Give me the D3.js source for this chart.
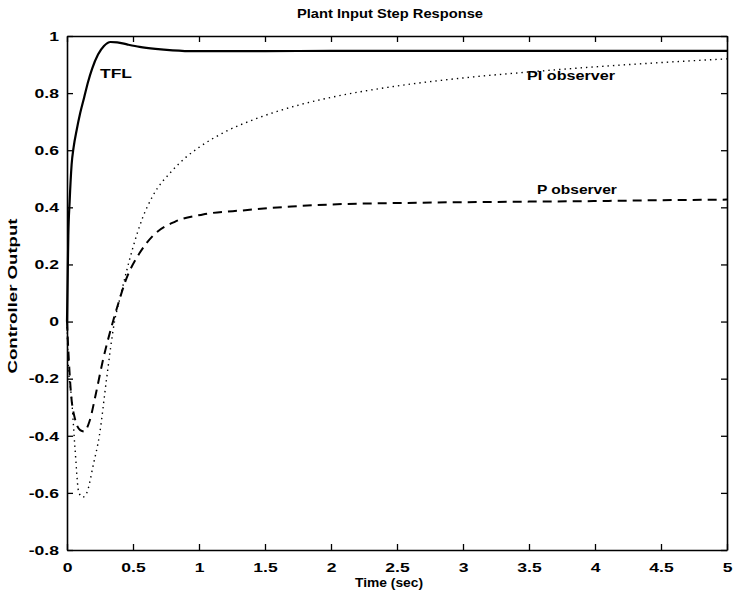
<!DOCTYPE html>
<html><head><meta charset="utf-8">
<script src="https://cdn.jsdelivr.net/npm/d3@7"></script>
<style>
html,body{margin:0;padding:0;background:#fff;}
svg text{font-family:"Liberation Sans",Arial,sans-serif;font-weight:bold;fill:#000;}
</style></head>
<body>
<svg id="c" width="734" height="594"></svg>
<script>
// ---- data ----
const xTicks = [0,0.5,1,1.5,2,2.5,3,3.5,4,4.5,5];
const xTickLabels = ["0","0.5","1","1.5","2","2.5","3","3.5","4","4.5","5"];
const yTicks = [-0.8,-0.6,-0.4,-0.2,0,0.2,0.4,0.6,0.8,1];
const yTickLabels = ["-0.8","-0.6","-0.4","-0.2","0","0.2","0.4","0.6","0.8","1"];

const tflTime  = [0,0.005,0.01,0.02,0.035,0.05,0.073,0.1,0.13,0.16,0.19,0.235,0.28,0.33,0.38,0.46,0.55,0.67,0.8,0.97,1.5,2,3,4,5];
const tflValue = [0,0.15,0.3,0.42,0.55,0.61,0.67,0.73,0.785,0.84,0.885,0.935,0.965,0.979,0.978,0.97,0.962,0.955,0.95,0.947,0.947,0.948,0.948,0.948,0.948];

const piTime  = [0,0.01,0.035,0.06,0.09,0.12,0.15,0.2,0.245,0.3,0.36,0.4,0.5,0.57,0.65,0.8,0.9,1.0,1.2,1.43,1.77,2,2.5,3,3.5,4,4.5,5];
const piValue = [0,-0.15,-0.27,-0.44,-0.6,-0.615,-0.6,-0.5,-0.4,-0.2,0,0.08,0.26,0.36,0.44,0.53,0.575,0.61,0.665,0.71,0.76,0.785,0.825,0.853,0.874,0.892,0.907,0.92];

const pTime  = [0,0.01,0.03,0.06,0.1,0.13,0.17,0.22,0.27,0.33,0.38,0.45,0.55,0.65,0.82,1.03,1.35,1.7,2,2.5,3,3.5,4,4.5,5];
const pValue = [0,-0.1,-0.25,-0.34,-0.38,-0.385,-0.35,-0.25,-0.14,-0.03,0.05,0.15,0.24,0.3,0.35,0.375,0.39,0.403,0.41,0.415,0.418,0.42,0.422,0.425,0.427];

const labels = [
  {text:"TFL", t:0.25, v:0.853, w:32},
  {text:"PI observer", t:3.485, v:0.846, w:88},
  {text:"P observer", t:3.56, v:0.447, w:80}
];

// ---- layout ----
const L=67, R=727, T=36, B=550;
const svg = d3.select("#c");
const x = d3.scaleLinear().domain([0,5]).range([L,R]);
const y = d3.scaleLinear().domain([-0.8,1]).range([B,T]);
const XS = 1.3;

function stretch(sel, f){
  sel.each(function(){
    const n=this.getComputedTextLength();
    d3.select(this).attr("textLength", n*f).attr("lengthAdjust","spacingAndGlyphs");
  });
}

const gx = svg.append("g").attr("transform",`translate(0,${B})`)
  .call(d3.axisBottom(x).tickValues(xTicks).tickFormat((d,i)=>xTickLabels[i]).tickSize(-6).tickSizeOuter(0).tickPadding(12));
const gy = svg.append("g").attr("transform",`translate(${L},0)`)
  .call(d3.axisLeft(y).tickValues(yTicks).tickFormat((d,i)=>yTickLabels[i]).tickSize(-6).tickSizeOuter(0).tickPadding(8));
const gt = svg.append("g").attr("transform",`translate(0,${T})`)
  .call(d3.axisTop(x).tickValues(xTicks).tickFormat("").tickSize(-6).tickSizeOuter(0));
const gr = svg.append("g").attr("transform",`translate(${R},0)`)
  .call(d3.axisRight(y).tickValues(yTicks).tickFormat("").tickSize(-6).tickSizeOuter(0));
[gx,gy,gt,gr].forEach(g=>{
  g.selectAll(".domain").attr("stroke","#000").attr("stroke-width",1.6);
  g.selectAll(".tick line").attr("stroke","#000").attr("stroke-width",1.3);
  g.selectAll("text").attr("font-size",13.5).attr("fill","#000")
   .style("font-family","'Liberation Sans',Arial,sans-serif").style("font-weight","bold");
});
stretch(gx.selectAll("text"), XS);
stretch(gy.selectAll("text"), XS);

// ---- lines ----
function draw(tArr, vArr, dash, w){
  const pts = tArr.map((t,i)=>[t,vArr[i]]);
  svg.append("path").datum(pts)
    .attr("fill","none").attr("stroke","#000").attr("stroke-width",w)
    .attr("stroke-dasharray",dash)
    .attr("stroke-linecap", dash? "butt":"round")
    .attr("d", d3.line().x(d=>x(d[0])).y(d=>y(d[1])).curve(d3.curveMonotoneX));
}
draw(piTime, piValue, "1.4,4", 1.4);
draw(pTime, pValue, "9,6", 2);
draw(tflTime, tflValue, null, 2.2);

// ---- text labels ----
labels.forEach(l=>{
  svg.append("text").attr("x",x(l.t)).attr("y",y(l.v)).attr("font-size",13.5)
    .attr("textLength",l.w).attr("lengthAdjust","spacingAndGlyphs").text(l.text);
});
svg.append("text").attr("x",390).attr("y",18).attr("text-anchor","middle").attr("font-size",13)
  .attr("textLength",186).attr("lengthAdjust","spacingAndGlyphs").text("Plant Input Step Response");
svg.append("text").attr("x",389).attr("y",587).attr("text-anchor","middle").attr("font-size",13.5)
  .attr("textLength",68).attr("lengthAdjust","spacingAndGlyphs").text("Time (sec)");
svg.append("text").attr("transform",`translate(17,296) rotate(-90)`).attr("text-anchor","middle").attr("font-size",13.5)
  .attr("textLength",155).attr("lengthAdjust","spacingAndGlyphs").text("Controller Output");
</script>
</body></html>
